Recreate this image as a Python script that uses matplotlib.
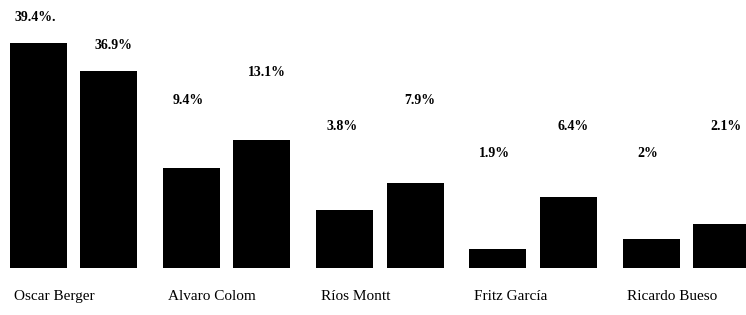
import matplotlib.pyplot as plt
import numpy as np

# Datos (escaneo de un gráfico de periódico)
candidatos = ["Oscar Berger", "Alvaro Colom", "Ríos Montt", "Fritz García", "Ricardo Bueso"]
pct_a = ["39.4%.", "9.4%", "3.8%", "1.9%", "2%"]
pct_b = ["36.9%", "13.1%", "7.9%", "6.4%", "2.1%"]
# alturas tal como están dibujadas en el original (no proporcionales a las etiquetas)
alto_a = [39.4, 17.5, 10.2, 3.3, 5.1]
alto_b = [34.5, 22.4, 14.9, 12.4, 7.7]

# posiciones de las etiquetas (niveles fijos del gráfico original)
nivel_a = [43.8, 29.4, 24.7, 20.1, 20.1]
nivel_b = [38.9, 34.3, 29.4, 24.7, 24.7]

fig = plt.figure(figsize=(7.46, 3.15), dpi=100)
ax = fig.add_axes([0, 0, 1, 1])

x = np.arange(len(candidatos))
ancho = 0.372
sep = 0.23

ax.bar(x - sep, alto_a, width=ancho, color="black")
ax.bar(x + sep, alto_b, width=ancho, color="black")

fuente = ["Liberation Serif", "DejaVu Serif"]
for i in range(len(candidatos)):
    ax.text(x[i] - sep - 0.02, nivel_a[i], pct_a[i], ha="center", va="center",
            fontsize=10, fontweight="bold", family=fuente)
    ax.text(x[i] + sep + 0.03, nivel_b[i], pct_b[i], ha="center", va="center",
            fontsize=10, fontweight="bold", family=fuente)
    ax.text(x[i] - sep - ancho / 2 + 0.03, -4.9, candidatos[i], ha="left", va="center",
            fontsize=11, family=fuente)

ax.set_xlim(-0.48, 4.39)
ax.set_ylim(-8.2, 46.9)
ax.axis("off")

plt.savefig("out.png", dpi=100)
